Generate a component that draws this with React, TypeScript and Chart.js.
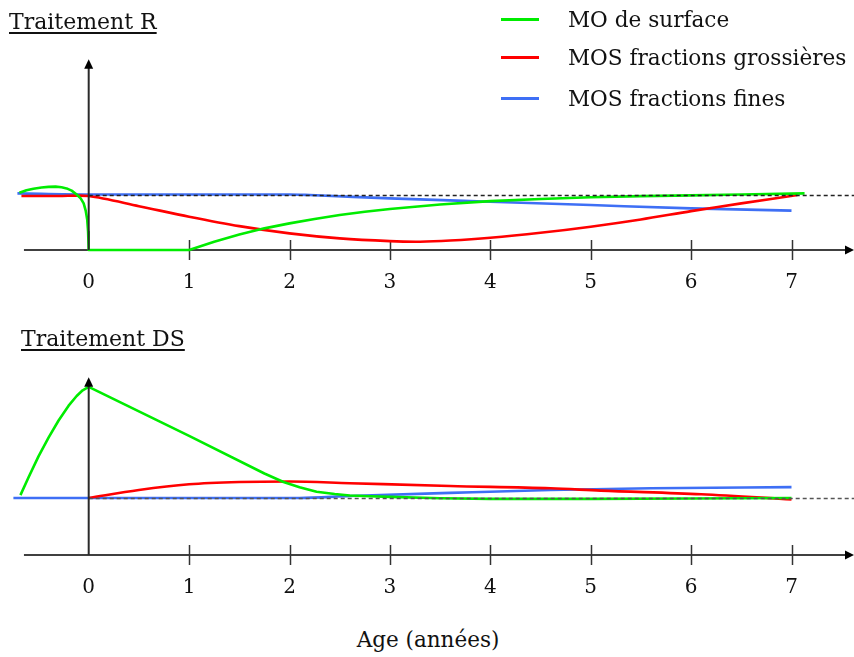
import React, { useEffect, useRef } from "react";
import { Chart, registerables } from "chart.js";

Chart.register(...registerables);

// ---------- data ----------
const yearTicks = [0, 1, 2, 3, 4, 5, 6, 7];
const seriesNames = ["MO de surface", "MOS fractions grossières", "MOS fractions fines"];
const seriesColors = ["#00ec00", "#ff0000", "#3e6ff5"];
const panelTitles = ["Traitement R", "Traitement DS"];
const axisTitle = "Age (années)";

// Traitement R
const greenR_t = [-0.69, -0.62, -0.55, -0.47, -0.4, -0.33, -0.27, -0.22, -0.17, -0.12, -0.08, -0.05, -0.03, -0.015, -0.006, 0, 1, 1.25, 1.5, 1.75, 2, 2.25, 2.5, 2.75, 3, 3.5, 4, 4.5, 5, 5.5, 6, 6.5, 7.13];
const greenR_v = [1.03, 1.075, 1.105, 1.125, 1.138, 1.142, 1.13, 1.11, 1.07, 1.0, 0.93, 0.84, 0.71, 0.55, 0.33, 0, 0, 0.15, 0.28, 0.39, 0.48, 0.56, 0.63, 0.69, 0.74, 0.82, 0.88, 0.92, 0.95, 0.97, 0.985, 1.0, 1.02];
const redR_t = [-0.67, -0.3, 0, 0.5, 1, 1.5, 2, 2.5, 3, 3.3, 3.6, 4, 4.5, 5, 5.5, 6, 6.5, 7.06];
const redR_v = [0.972, 0.972, 0.972, 0.79, 0.6, 0.43, 0.3, 0.21, 0.16, 0.15, 0.17, 0.22, 0.31, 0.42, 0.55, 0.7, 0.84, 0.99];
const blueR_t = [-0.71, 0, 1, 2, 2.2, 3, 4, 5, 6, 7];
const blueR_v = [1.02, 1.0, 1.0, 1.0, 0.99, 0.93, 0.87, 0.81, 0.75, 0.71];

// Traitement DS
const greenDS_t = [-0.68, -0.6, -0.5, -0.4, -0.3, -0.2, -0.12, -0.06, 0, 1, 1.75, 1.94, 2.1, 2.27, 2.45, 2.6, 2.8, 3, 3.5, 4, 5, 6, 7];
const greenDS_v = [1.05, 1.36, 1.73, 2.06, 2.36, 2.62, 2.79, 2.89, 2.95, 2.09, 1.43, 1.28, 1.19, 1.11, 1.07, 1.045, 1.03, 1.02, 0.995, 0.985, 0.985, 0.99, 1.0];
const redDS_t = [0, 0.5, 1, 1.5, 2, 2.6, 3.6, 4.6, 5.1, 6.1, 7];
const redDS_v = [1.0, 1.14, 1.24, 1.28, 1.29, 1.26, 1.21, 1.17, 1.13, 1.065, 0.975];
const blueDS_t = [-0.75, 0, 1, 2.1, 2.6, 3.6, 4.6, 5.6, 7];
const blueDS_v = [1.0, 1.0, 1.0, 1.0, 1.035, 1.09, 1.14, 1.17, 1.19];

const baselineValue = 1;

// ---------- helpers ----------
const pts = (t: number[], v: number[]) => t.map((x, i) => ({ x, y: v[i] }));

const FONT = '"DejaVu Serif", "Liberation Serif", serif';

const axesPlugin = {
  id: "panelAxes",
  beforeDatasetsDraw(chart: any, _args: any, opts: any) {
    const { ctx } = chart;
    const xs = chart.scales.x;
    const ys = chart.scales.y;
    const y0 = ys.getPixelForValue(0);
    ctx.save();
    ctx.strokeStyle = "#000";
    ctx.lineWidth = 1.5;
    ctx.beginPath();
    ctx.moveTo(xs.getPixelForValue(opts.axisStart), y0);
    ctx.lineTo(xs.right - 6, y0);
    ctx.stroke();
    ctx.fillStyle = "#000";
    ctx.beginPath();
    ctx.moveTo(xs.right, y0);
    ctx.lineTo(xs.right - 9, y0 - 4.5);
    ctx.lineTo(xs.right - 9, y0 + 4.5);
    ctx.closePath();
    ctx.fill();
    ctx.strokeStyle = "#333";
    ctx.lineWidth = 1.5;
    yearTicks.forEach((t) => {
      if (t === 0) return;
      const px = Math.round(xs.getPixelForValue(t)) + 0.5;
      ctx.beginPath();
      ctx.moveTo(px, y0 - 10);
      ctx.lineTo(px, y0 + 10);
      ctx.stroke();
    });
    ctx.restore();
  },
  afterDatasetsDraw(chart: any, _args: any, opts: any) {
    const { ctx } = chart;
    const xs = chart.scales.x;
    const ys = chart.scales.y;
    const y0 = ys.getPixelForValue(0);
    const x0 = xs.getPixelForValue(0);
    const yb = Math.round(ys.getPixelForValue(baselineValue)) + 0.5;
    ctx.save();
    ctx.strokeStyle = opts.dashColor;
    ctx.lineWidth = 1.3;
    ctx.setLineDash([4, 3]);
    ctx.beginPath();
    ctx.moveTo(x0, yb);
    ctx.lineTo(xs.right, yb);
    ctx.stroke();
    ctx.setLineDash([]);
    const yTop = ys.getPixelForValue(opts.arrowTop);
    ctx.strokeStyle = "#2a2a2a";
    ctx.lineWidth = 2;
    ctx.beginPath();
    ctx.moveTo(x0, y0);
    ctx.lineTo(x0, yTop + 6);
    ctx.stroke();
    ctx.fillStyle = "#000";
    ctx.beginPath();
    ctx.moveTo(x0, yTop);
    ctx.lineTo(x0 - 4.5, yTop + 9.5);
    ctx.lineTo(x0 + 4.5, yTop + 9.5);
    ctx.closePath();
    ctx.fill();
    ctx.restore();
  },
};

const X_MIN = -88.7 / 100.4;
const X_MAX = (854 - 88.7) / 100.4;

type Series = { t: number[]; v: number[]; mode: "linear" | "monotone" | "spline" };

function makeChart(
  canvas: HTMLCanvasElement,
  series: Series[],
  yMin: number,
  yMax: number,
  arrowTop: number,
  dashColor: string
) {
  return new Chart(canvas, {
    type: "line",
    data: {
      datasets: series.map((s, i) => ({
        label: seriesNames[i],
        data: pts(s.t, s.v),
        borderColor: seriesColors[i],
        backgroundColor: seriesColors[i],
        borderWidth: 2.6,
        pointRadius: 0,
        fill: false,
        borderJoinStyle: "round" as const,
        tension: s.mode === "linear" ? 0 : 0.3,
        cubicInterpolationMode: s.mode === "monotone" ? ("monotone" as const) : ("default" as const),
      })),
    },
    options: {
      animation: false,
      responsive: false,
      devicePixelRatio: 1,
      events: [],
      layout: { padding: 0 },
      scales: {
        x: {
          type: "linear",
          min: X_MIN,
          max: X_MAX,
          position: { y: 0 } as any,
          grid: { display: false },
          border: { display: false },
          afterBuildTicks: (s: any) => {
            s.ticks = yearTicks.map((v) => ({ value: v }));
          },
          ticks: {
            font: { family: FONT, size: 20 },
            color: "#111",
            padding: 13,
            maxRotation: 0,
            autoSkip: false,
          },
        },
        y: { type: "linear", display: false, min: yMin, max: yMax },
      },
      plugins: {
        legend: { display: false },
        tooltip: { enabled: false },
        panelAxes: { arrowTop, axisStart: -0.645, dashColor },
      } as any,
    },
    plugins: [axesPlugin],
  });
}

export default function App() {
  const topRef = useRef<HTMLCanvasElement>(null);
  const botRef = useRef<HTMLCanvasElement>(null);

  useEffect(() => {
    const c1 = makeChart(
      topRef.current!,
      [
        { t: greenR_t, v: greenR_v, mode: "linear" },
        { t: redR_t, v: redR_v, mode: "spline" },
        { t: blueR_t, v: blueR_v, mode: "monotone" },
      ],
      (250 - 320) / 55.5,
      250 / 55.5,
      (250 - 59.3) / 55.5,
      "#222"
    );
    const c2 = makeChart(
      botRef.current!,
      [
        { t: greenDS_t, v: greenDS_v, mode: "linear" },
        { t: redDS_t, v: redDS_v, mode: "monotone" },
        { t: blueDS_t, v: blueDS_v, mode: "monotone" },
      ],
      (235 - 300) / 57,
      235 / 57,
      (555 - 377.3) / 57,
      "#555"
    );
    return () => {
      c1.destroy();
      c2.destroy();
    };
  }, []);

  const titleStyle: React.CSSProperties = {
    position: "absolute",
    fontSize: 22,
    lineHeight: "22px",
    whiteSpace: "nowrap",
    color: "#111",
    textDecoration: "underline",
    textDecorationThickness: "1.5px",
    textUnderlineOffset: "3px",
  };
  const legendTextStyle: React.CSSProperties = {
    position: "absolute",
    left: 568,
    fontSize: 21.6,
    lineHeight: "21px",
    whiteSpace: "nowrap",
    color: "#111",
  };
  const legendTops = [8.5, 47, 88];
  const legendLineYs = [19.5, 57.5, 98.5];

  return (
    <div
      style={{
        position: "absolute",
        left: 0,
        top: 0,
        width: 854,
        height: 657,
        background: "#fff",
        fontFamily: FONT,
        overflow: "hidden",
      }}
    >
      <canvas ref={topRef} width={854} height={320} style={{ position: "absolute", left: 0, top: 0 }} />
      <canvas ref={botRef} width={854} height={300} style={{ position: "absolute", left: 0, top: 320 }} />

      <div style={{ ...titleStyle, left: 9, top: 10.5 }}>{panelTitles[0]}</div>
      <div style={{ ...titleStyle, left: 21, top: 328 }}>{panelTitles[1]}</div>

      {seriesNames.map((n, i) => (
        <React.Fragment key={n}>
          <div
            style={{
              position: "absolute",
              left: 501,
              top: legendLineYs[i] - 1.5,
              width: 38,
              height: 3,
              background: seriesColors[i],
            }}
          />
          <div style={{ ...legendTextStyle, top: legendTops[i] }}>{n}</div>
        </React.Fragment>
      ))}

      <div
        style={{
          position: "absolute",
          left: 0,
          width: 856,
          top: 629,
          textAlign: "center",
          fontSize: 21.5,
          lineHeight: "22px",
          color: "#111",
        }}
      >
        {axisTitle}
      </div>
    </div>
  );
}
